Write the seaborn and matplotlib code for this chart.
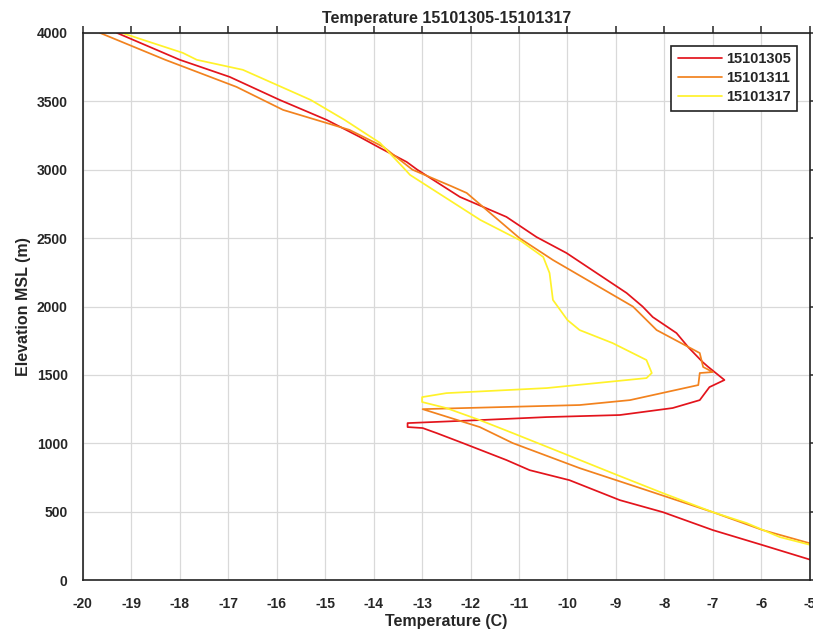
import pandas as pd
import numpy as np
import matplotlib
matplotlib.use("Agg")
import matplotlib.pyplot as plt
import seaborn as sns

# profiles, from 4000 m down to the surface
red_temp = [-19.3, -18.0, -16.97, -15.94, -14.97, -14.29, -13.87, -13.32, -13.1, -12.22, -11.26,
            -10.64, -10.02, -9.4, -8.78, -8.45, -8.24, -7.75, -7.5, -7.21, -7.1, -6.76, -7.07,
            -7.27, -7.83, -8.92, -10.43, -11.81, -13.3, -13.3, -12.99, -12.7, -12.16, -11.26,
            -10.78, -9.96, -8.92, -8.03, -7.0, -5.97, -4.9]
red_elev = [4000, 3803, 3678, 3510, 3364, 3240, 3159, 3057, 3000, 2801, 2655, 2508, 2391, 2245,
            2099, 2000, 1923, 1806, 1700, 1594, 1560, 1463, 1411, 1316, 1258, 1207, 1192, 1170,
            1148, 1119, 1112, 1075, 1002, 878, 804, 731, 585, 497, 366, 256, 140]

orange_temp = [-19.65, -18.3, -16.83, -15.87, -14.5, -13.8, -13.2, -12.4, -12.08, -10.99, -10.3,
               -8.65, -8.16, -7.27, -7.2, -7.0, -7.27, -7.3, -8.71, -9.75, -12.99, -11.81, -11.13,
               -9.75, -8.37, -7.0, -5.97, -4.9]
orange_elev = [4000, 3803, 3605, 3437, 3291, 3167, 3000, 2880, 2830, 2500, 2340, 2000, 1828, 1660,
               1558, 1521, 1514, 1426, 1316, 1280, 1250, 1119, 1002, 819, 658, 497, 366, 260]

yellow_temp = [-19.2, -17.94, -17.65, -16.7, -15.3, -14.6, -13.87, -13.4, -13.25, -11.8, -10.99,
               -10.5, -10.37, -10.3, -10.0, -9.75, -9.07, -8.37, -8.26, -8.37, -10.43, -12.5,
               -13.0, -13.0, -12.5, -11.81, -11.13, -10.1, -9.07, -8.03, -7.0, -6.3, -5.62, -4.9]
yellow_elev = [4000, 3854, 3803, 3730, 3510, 3364, 3196, 3020, 2962, 2633, 2486, 2362, 2245, 2048,
               1901, 1828, 1733, 1609, 1514, 1477, 1404, 1367, 1338, 1302, 1258, 1170, 1075, 929,
               782, 636, 497, 417, 315, 250]

labels = ["15101305", "15101311", "15101317"]
colors = ["#e3141c", "#f2821e", "#fff22a"]

frames = []
for lab, t, z in zip(labels, [red_temp, orange_temp, yellow_temp], [red_elev, orange_elev, yellow_elev]):
    frames.append(pd.DataFrame({"temp": t, "elev": z, "time": lab}))
df = pd.concat(frames, ignore_index=True)

sns.set_style("white")
plt.rcParams['font.family'] = ['Liberation Sans', 'DejaVu Sans']
plt.rcParams['font.weight'] = 'bold'
plt.rcParams['axes.unicode_minus'] = False

fig = plt.figure(figsize=(8.13, 6.32), dpi=100)
ax = fig.add_axes([0.102, 0.082, 0.894, 0.866])

sns.lineplot(data=df, x="temp", y="elev", hue="time", sort=False, estimator=None,
             palette=colors, linewidth=1.25, ax=ax)

ax.set_xlim(-20, -5)
ax.set_ylim(0, 4000)
ax.set_xticks(np.arange(-20, -4, 1))
ax.set_yticks(np.arange(0, 4001, 500))
ax.grid(True, color="#d9d9d9", linewidth=0.9)
ax.tick_params(direction="out", length=5, width=1.1, labelsize=10, top=True, right=True,
               labeltop=False, labelright=False)
ax.tick_params(axis="x", pad=7)
ax.tick_params(axis="y", pad=6)
for lbl in ax.get_xticklabels() + ax.get_yticklabels():
    lbl.set_fontweight("bold")
for s in ax.spines.values():
    s.set_color("#222222")
    s.set_linewidth(1.2)

ax.set_xlabel("Temperature (C)", fontsize=11.5, fontweight="bold", labelpad=2)
ax.set_ylabel("Elevation MSL (m)", fontsize=11.5, fontweight="bold", labelpad=4)
ax.set_title("Temperature 15101305-15101317", fontsize=11.5, fontweight="bold", pad=7)

leg = ax.legend(loc="upper right", bbox_to_anchor=(0.993, 0.99), fancybox=False, framealpha=1,
                edgecolor="#222222", prop={"weight": "bold", "size": 10.5}, handlelength=3.0,
                borderpad=0.45, labelspacing=0.35, handletextpad=0.3)
leg.get_frame().set_linewidth(1.2)

fig.savefig("out.png", dpi=100)
